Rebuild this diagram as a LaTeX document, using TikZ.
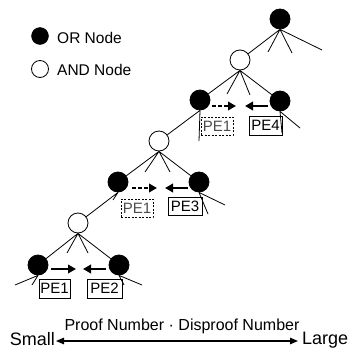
\documentclass[tikz,border=0pt]{standalone}
\usepackage{fontspec}
\setmainfont{Liberation Sans}
\usetikzlibrary{arrows.meta}
\begin{document}
\begin{tikzpicture}[x=1pt,y=-1pt,
  ornode/.style={circle,draw,fill=black,minimum size=20pt,inner sep=0pt,line width=0.8pt},
  andnode/.style={circle,draw,fill=white,minimum size=20pt,inner sep=0pt,line width=0.8pt},
  treeline/.style={line width=0.8pt},
  pebox/.style={draw,line width=0.8pt,inner sep=0pt,minimum width=32pt,minimum height=18pt,font=\fontsize{15}{15}\selectfont},
  pedash/.style={pebox,dash pattern=on 2pt off 1.5pt,text=black!70},
  parrow/.style={line width=2.6pt,-{Triangle[length=8pt,width=8.5pt]}},
  pdarrow/.style={parrow,dash pattern=on 3.5pt off 2.5pt},
  legtext/.style={anchor=base west,inner sep=0pt,font=\fontsize{15.5}{15.5}\selectfont},
]
\useasboundingbox (0,0) rectangle (352,356);
% legend
\node[circle,fill=black,draw,minimum size=17pt,inner sep=0pt] (legor) at (40,36) {};
\node[circle,fill=white,draw,line width=0.8pt,minimum size=17pt,inner sep=0pt] (legand) at (40,69) {};
\node[legtext] (legort) at (57,43) {OR Node};
\node[legtext] (legandt) at (57,75) {AND Node};
% tree nodes
\node[ornode] (orA) at (280,19) {};
\node[andnode] (andA) at (240,60) {};
\node[ornode] (orB) at (200,100) {};
\node[ornode] (orC) at (280,101) {};
\node[andnode] (andB) at (159,141) {};
\node[ornode] (orD) at (118,182) {};
\node[ornode] (orE) at (199,182) {};
\node[andnode] (andC) at (78,223) {};
\node[ornode] (orF) at (38,265) {};
\node[ornode] (orG) at (119,265) {};
% free ends
\coordinate (a1) at (268,52); \coordinate (a2) at (292,53); \coordinate (a3) at (322,50);
\coordinate (b1) at (227,94); \coordinate (b2) at (250,95);
\coordinate (c1) at (199,141);
\coordinate (d1) at (282,133); \coordinate (d2) at (300,128);
\coordinate (e1) at (145,172); \coordinate (e2) at (170,172);
\coordinate (f1) at (113,200);
\coordinate (g1) at (208,214); \coordinate (g2) at (225,205);
\coordinate (h1) at (67,253); \coordinate (h2) at (88,253);
\coordinate (i1) at (15,285); \coordinate (i2) at (32,285);
\coordinate (j1) at (124,285); \coordinate (j2) at (142,285);
% tree lines
\draw[treeline] (orA.south) -- (andA) (orA.south) -- (a1) (orA.south) -- (a2) (orA.south) -- (a3);
\draw[treeline] (andA.south) -- (orB) (andA.south) -- (orC) (andA.south) -- (b1) (andA.south) -- (b2);
\draw[treeline] (orB.south) -- (andB) (orB.south) -- (c1);
\draw[treeline] (orC.south) -- (d1) (orC.south) -- (d2);
\draw[treeline] (andB.south) -- (orD) (andB.south) -- (orE) (andB.south) -- (e1) (andB.south) -- (e2);
\draw[treeline] (orD.south) -- (andC) (orD.south) -- (f1);
\draw[treeline] (orE.south) -- (g1) (orE.south) -- (g2);
\draw[treeline] (andC.south) -- (orF) (andC.south) -- (orG) (andC.south) -- (h1) (andC.south) -- (h2);
\draw[treeline] (orF.south) -- (i1) (orF.south) -- (i2);
\draw[treeline] (orG.south) -- (j1) (orG.south) -- (j2);
% PE boxes
\node[pedash] (pe1a) at (217,126) {PE1};
\node[pebox,minimum width=33pt,minimum height=19pt] (pe4) at (265.5,125.5) {PE4};
\node[pedash] (pe1b) at (137,208) {PE1};
\node[pebox,minimum width=34pt] (pe3) at (185,206) {PE3};
\node[pebox,minimum width=31pt,minimum height=19pt] (pe1c) at (54.5,288.5) {PE1};
\node[pebox,minimum width=35pt,minimum height=19pt] (pe2) at (104.5,288.5) {PE2};
% arrows
\coordinate (r1s) at (212,106); \coordinate (r1e) at (236,106);
\coordinate (l1s) at (268,106); \coordinate (l1e) at (245,106);
\coordinate (r2s) at (132,188); \coordinate (r2e) at (157,188);
\coordinate (l2s) at (188,188); \coordinate (l2e) at (165,188);
\coordinate (r3s) at (51,269); \coordinate (r3e) at (76,269);
\coordinate (l3s) at (106,269); \coordinate (l3e) at (83,269);
\draw[pdarrow] (r1s) -- (r1e);
\draw[parrow] (l1s) -- (l1e);
\draw[pdarrow] (r2s) -- (r2e);
\draw[parrow] (l2s) -- (l2e);
\draw[parrow] (r3s) -- (r3e);
\draw[parrow] (l3s) -- (l3e);
% scale
\node[anchor=base,inner sep=0pt,font=\fontsize{16}{16}\selectfont] (pdn) at (182,330) {Proof Number\hspace{4.5pt}·\hspace{4.5pt}Disproof Number};
\node[anchor=base east,inner sep=0pt,font=\fontsize{18}{18}\selectfont] (small) at (55,345) {Small};
\node[anchor=base west,inner sep=0pt,font=\fontsize{18}{18}\selectfont] (large) at (302,344) {Large};
\coordinate (sl) at (56,341); \coordinate (sr) at (298,341);
\draw[line width=1.3pt,{Triangle[length=8pt,width=6.5pt]}-{Triangle[length=8pt,width=6.5pt]}] (sl) -- (sr);
\end{tikzpicture}
\end{document}
